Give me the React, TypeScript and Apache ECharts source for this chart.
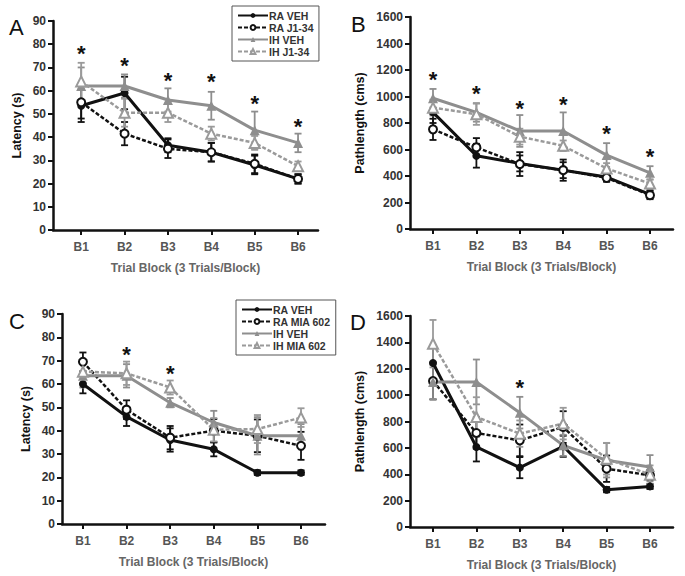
import React, { useEffect, useRef } from "react";
import * as echarts from "echarts";

const blocks = ["B1", "B2", "B3", "B4", "B5", "B6"];
const latencyTicks = [0, 10, 20, 30, 40, 50, 60, 70, 80, 90];
const pathTicks = [0, 200, 400, 600, 800, 1000, 1200, 1400, 1600];

// Panel A - Latency (J1-34)
const aRaVeh = [53.5, 59, 36.5, 33.5, 28, 22];
const aRaVehErr = [7, 7, 3, 4, 4, 2];
const aRaJ = [55, 41.5, 35, 33.5, 28.5, 22];
const aRaJErr = [7, 5, 4, 4, 4, 2];
const aIhVeh = [62, 62, 56, 53.5, 43, 37.5];
const aIhVehErr = [8, 5, 5, 6, 8, 4];
const aIhJ = [64, 50.5, 50.5, 41.5, 37.5, 27.5];
const aIhJErr = [8, 6, 4, 3, 3, 2];
const aStars = [76, 71, 64.5, 64, 54.5, 44.5];

// Panel B - Pathlength (J1-34)
const bRaVeh = [880, 553, 495, 444, 392, 262];
const bRaVehErr = [80, 90, 60, 80, 30, 30];
const bRaJ = [752, 616, 490, 444, 386, 255];
const bRaJErr = [80, 70, 90, 60, 30, 30];
const bIhVeh = [987, 880, 740, 740, 558, 424];
const bIhVehErr = [70, 70, 120, 140, 90, 50];
const bIhJ = [916, 866, 697, 628, 457, 343];
const bIhJErr = [60, 80, 60, 40, 40, 30];
const bStars = [1125, 1025, 911, 936, 722, 545];

// Panel C - Latency (MIA 602)
const cRaVeh = [60, 46, 36, 32, 22, 22];
const cRaVehErr = [4, 4, 5, 3, 1, 1];
const cRaM = [69.5, 49, 37, 40, 37.8, 33.5];
const cRaMErr = [4, 4, 5, 5, 7, 6];
const cIhVeh = [63.5, 63.5, 52, 43.5, 37.8, 37.8];
const cIhVehErr = [5, 5, 2, 5, 8, 5];
const cIhM = [65.3, 64.6, 58.5, 40.4, 40.7, 45.6];
const cIhMErr = [5, 5, 3, 5, 6, 4];
const cStars = [null, 72.5, 64.5, null, null, null];

// Panel D - Pathlength (MIA 602)
const dRaVeh = [1244, 607, 450, 612, 283, 308];
const dRaVehErr = [120, 110, 80, 80, 20, 20];
const dRaM = [1107, 713, 657, 758, 442, 392];
const dRaMErr = [140, 120, 120, 120, 100, 40];
const dIhVeh = [1100, 1100, 867, 619, 506, 455];
const dIhVehErr = [130, 170, 120, 80, 130, 90];
const dIhM = [1390, 834, 708, 784, 518, 397];
const dIhMErr = [180, 150, 100, 120, 120, 70];
const dStars = [null, null, 1057, null, null, null];

const legendA = ["RA VEH", "RA J1-34", "IH VEH", "IH J1-34"];
const legendC = ["RA VEH", "RA MIA 602", "IH VEH", "IH MIA 602"];

const BLACK = "#111111";
const GRAY = "#8e8e8e";
const GRAY2 = "#9a9a9a";
const FONT = "Liberation Sans, Arial, sans-serif";

type Style = { color: string; dashed: boolean; filled: boolean; shape: string };
const styles: Style[] = [
  { color: BLACK, dashed: false, filled: true, shape: "circle" },
  { color: BLACK, dashed: true, filled: false, shape: "circle" },
  { color: GRAY, dashed: false, filled: true, shape: "triangle" },
  { color: GRAY2, dashed: true, filled: false, shape: "triangle" },
];

function lineSeries(name: string, vals: number[], st: Style, idx: number) {
  return {
    name,
    type: "line",
    xAxisIndex: idx,
    yAxisIndex: idx,
    data: vals.map((v, i) => [i + 1, v]),
    z: 3,
    symbol: st.shape,
    symbolSize: st.shape === "triangle" ? 10 : 8,
    lineStyle: {
      color: st.color,
      width: st.dashed ? 2.5 : 3,
      type: st.dashed ? [4, 2] : "solid",
    },
    itemStyle: {
      color: st.filled ? st.color : "#ffffff",
      borderColor: st.color,
      borderWidth: st.filled ? 0 : 2,
    },
    emphasis: { disabled: true },
  };
}

function errSeries(vals: number[], errs: number[], st: Style, idx: number) {
  return {
    type: "custom",
    name: "err",
    xAxisIndex: idx,
    yAxisIndex: idx,
    z: 2,
    data: vals.map((v, i) => [i + 1, v, errs[i]]),
    encode: { x: 0, y: 1 },
    renderItem: (params: any, api: any) => {
      const x = api.value(0);
      const y = api.value(1);
      const e = api.value(2);
      const top = api.coord([x, y + e]);
      const bot = api.coord([x, y - e]);
      const hw = 3.5;
      const s = { stroke: st.color, lineWidth: 1.8 };
      return {
        type: "group",
        children: [
          { type: "line", shape: { x1: top[0], y1: top[1], x2: bot[0], y2: bot[1] }, style: s },
          { type: "line", shape: { x1: top[0] - hw, y1: top[1], x2: top[0] + hw, y2: top[1] }, style: s },
          { type: "line", shape: { x1: bot[0] - hw, y1: bot[1], x2: bot[0] + hw, y2: bot[1] }, style: s },
        ],
      };
    },
  };
}

function starSeries(vals: (number | null)[], idx: number) {
  const data: number[][] = [];
  vals.forEach((v, i) => {
    if (v !== null) data.push([i + 1, v]);
  });
  return {
    type: "custom",
    name: "stars",
    xAxisIndex: idx,
    yAxisIndex: idx,
    z: 4,
    data,
    encode: { x: 0, y: 1 },
    renderItem: (params: any, api: any) => {
      const p = api.coord([api.value(0), api.value(1)]);
      return {
        type: "text",
        x: p[0],
        y: p[1],
        style: {
          text: "*",
          fill: "#111",
          font: "bold 22px " + FONT,
          align: "center",
          verticalAlign: "middle",
        },
      };
    },
  };
}

function panelSeries(names: string[], groups: number[][], errs: number[][], stars: (number | null)[], idx: number) {
  const out: any[] = [];
  groups.forEach((g, k) => {
    out.push(errSeries(g, errs[k], styles[k], idx));
  });
  groups.forEach((g, k) => {
    out.push(lineSeries(names[k], g, styles[k], idx));
  });
  out.push(starSeries(stars, idx));
  return out;
}

const grids = [
  { left: 53, top: 21, width: 265, height: 209 },
  { left: 410, top: 17, width: 263, height: 212 },
  { left: 62, top: 314, width: 263, height: 210 },
  { left: 410, top: 316, width: 263, height: 211 },
];
const xRanges = [
  [0.35, 6.46],
  [0.47, 6.53],
  [0.52, 6.55],
  [0.47, 6.53],
];

function xAxis(idx: number) {
  return {
    type: "value",
    gridIndex: idx,
    min: xRanges[idx][0],
    max: xRanges[idx][1],
    splitLine: { show: false },
    axisLine: { show: true, lineStyle: { color: BLACK, width: 2.5 } },
    axisTick: {
      show: true,
      customValues: [1, 2, 3, 4, 5, 6],
      length: 5,
      lineStyle: { color: BLACK, width: 2 },
    },
    axisLabel: {
      customValues: [1, 2, 3, 4, 5, 6],
      formatter: (v: number) => blocks[Math.round(v) - 1] || "",
      color: "#555",
      fontWeight: "bold",
      fontSize: 12,
      fontFamily: FONT,
      margin: 11,
    },
    name: "Trial Block (3 Trials/Block)",
    nameLocation: "middle",
    nameGap: 32,
    nameTextStyle: { color: "#666", fontWeight: "bold", fontSize: 12, fontFamily: FONT },
  };
}

function yAxis(idx: number) {
  const lat = idx === 0 || idx === 2;
  const ticks = lat ? latencyTicks : pathTicks;
  return {
    type: "value",
    gridIndex: idx,
    min: ticks[0],
    max: ticks[ticks.length - 1],
    interval: ticks[1] - ticks[0],
    splitLine: { show: false },
    axisLine: { show: true, lineStyle: { color: BLACK, width: 2.5 } },
    axisTick: { show: true, length: 5, lineStyle: { color: BLACK, width: 2 } },
    axisLabel: {
      formatter: (v: number) => String(v),
      color: "#333",
      fontWeight: "bold",
      fontSize: 12,
      fontFamily: FONT,
      margin: 7,
    },
    name: lat ? "Latency (s)" : "Pathlength (cms)",
    nameLocation: "middle",
    nameRotate: 90,
    nameGap: lat ? 30 : 44,
    nameTextStyle: { color: "#111", fontWeight: "bold", fontSize: 12.5, fontFamily: FONT },
  };
}

function legend(names: string[], left: number, top: number, width: number) {
  return {
    data: names,
    orient: "vertical",
    left,
    top,
    width,
    padding: [4, 5, 4, 5],
    itemGap: 1,
    itemWidth: 30,
    itemHeight: 6,
    borderColor: "#555",
    borderWidth: 1,
    selectedMode: false,
    textStyle: { fontSize: 10.5, fontWeight: "bold", color: "#333", fontFamily: FONT, padding: [0, 0, 0, -4] },
  };
}

export default function App() {
  const ref = useRef<HTMLDivElement>(null);
  useEffect(() => {
    if (!ref.current) return;
    const chart = echarts.init(ref.current, null, { renderer: "svg" });
    const series = [
      ...panelSeries(legendA, [aRaVeh, aRaJ, aIhVeh, aIhJ], [aRaVehErr, aRaJErr, aIhVehErr, aIhJErr], aStars, 0),
      ...panelSeries(legendA, [bRaVeh, bRaJ, bIhVeh, bIhJ], [bRaVehErr, bRaJErr, bIhVehErr, bIhJErr], bStars, 1),
      ...panelSeries(legendC, [cRaVeh, cRaM, cIhVeh, cIhM], [cRaVehErr, cRaMErr, cIhVehErr, cIhMErr], cStars, 2),
      ...panelSeries(legendC, [dRaVeh, dRaM, dIhVeh, dIhM], [dRaVehErr, dRaMErr, dIhVehErr, dIhMErr], dStars, 3),
    ];
    const letters = [
      { t: "A", x: 9, y: 16 },
      { t: "B", x: 351, y: 13 },
      { t: "C", x: 9, y: 310 },
      { t: "D", x: 350, y: 311 },
    ];
    chart.setOption({
      animation: false,
      backgroundColor: "#ffffff",
      grid: grids,
      xAxis: [0, 1, 2, 3].map(xAxis),
      yAxis: [0, 1, 2, 3].map(yAxis),
      legend: [legend(legendA, 232, 6, 83), legend(legendC, 236, 300, 94)],
      series,
      graphic: letters.map((l) => ({
        type: "text",
        left: l.x,
        top: l.y,
        style: { text: l.t, font: "22px " + FONT, fill: "#111" },
      })),
    });
    return () => chart.dispose();
  }, []);
  return (
    <div
      ref={ref}
      style={{ position: "fixed", left: 0, top: 0, width: 685, height: 576, background: "#fff" }}
    />
  );
}
